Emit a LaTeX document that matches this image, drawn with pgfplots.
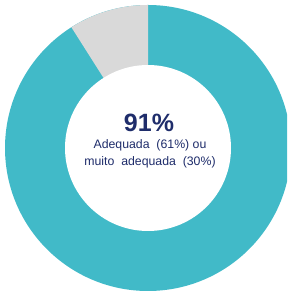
\documentclass[border=0pt]{standalone}
\usepackage{pgfplots}
\pgfplotsset{compat=1.18}
\usepackage{fontspec}
\setmainfont{Liberation Sans}
\definecolor{tealc}{RGB}{65,186,200}
\definecolor{grayc}{RGB}{217,217,217}
\definecolor{navy}{RGB}{31,45,107}
% shares (percent)
\def\shareA{91}
\def\shareB{9}
\begin{document}
\begin{tikzpicture}
\begin{axis}[name=ax, x=1pt, y=1pt, xmin=0, xmax=287, ymin=0, ymax=291,
  hide axis, clip=true, scale only axis]
\pgfmathsetmacro{\endang}{90+\shareB*3.6}
\fill[tealc] (axis cs:148,143) circle[radius=143pt];
\fill[grayc] (axis cs:148,143) -- ++(90:143pt) arc[start angle=90, end angle=\endang, radius=143pt] -- cycle;
\fill[white] (axis cs:148,143) circle[radius=83pt];
\node[text=navy, font=\fontsize{25}{28}\selectfont\bfseries] at (axis cs:149,168) {\shareA\%};
\node[text=navy, font=\fontsize{12.3}{17}\selectfont, align=center] at (axis cs:150,137) {Adequada\ \ (61\%) ou\\muito\ \ adequada\ \ (30\%)};
\end{axis}
\pgfresetboundingbox
\useasboundingbox (ax.south west) rectangle (ax.north east);
\end{tikzpicture}
\end{document}
